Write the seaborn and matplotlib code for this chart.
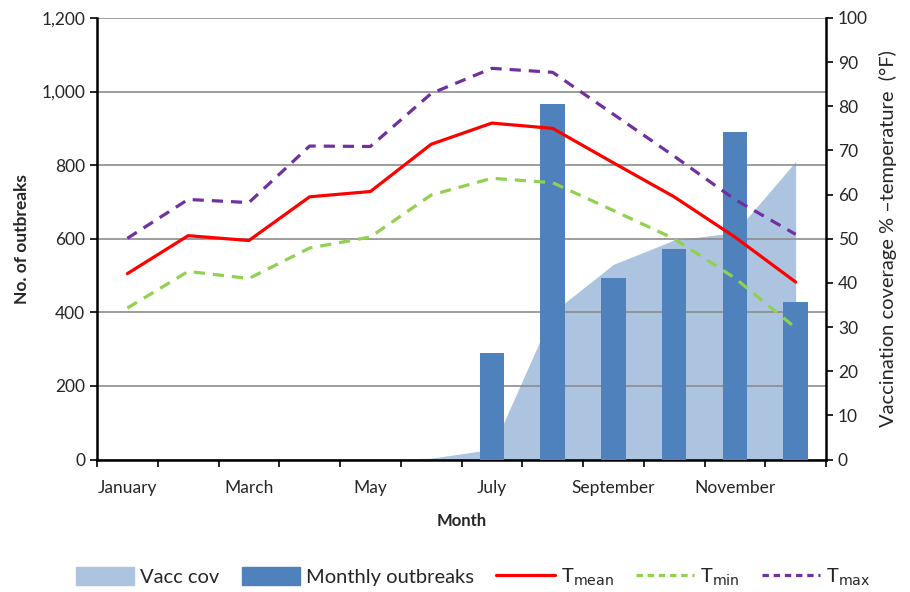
import numpy as np
import pandas as pd
import seaborn as sns
import matplotlib.pyplot as plt
from matplotlib.patches import Patch
from matplotlib.lines import Line2D

# data
months = ['January', 'February', 'March', 'April', 'May', 'June',
          'July', 'August', 'September', 'October', 'November', 'December']
outbreaks = [0, 0, 0, 0, 0, 0, 289, 966, 494, 573, 890, 428]
vacc_cov = [0, 0, 0, 0, 0, 0.3, 2.3, 33.3, 44.2, 49.7, 51.4, 67.5]
t_mean = [42.1, 50.7, 49.6, 59.5, 60.7, 71.4, 76.2, 75.0, 67.2, 59.5, 50.4, 40.2]
t_min = [34.3, 42.6, 41.0, 47.9, 50.4, 59.9, 63.7, 62.7, 56.4, 50.0, 41.1, 29.8]
t_max = [50.1, 58.9, 58.2, 71.0, 70.9, 82.9, 88.6, 87.7, 78.2, 68.7, 58.9, 51.0]

df = pd.DataFrame({
    'month': months,
    'outbreaks': outbreaks,
    'vacc': vacc_cov,
    'tmean': t_mean,
    'tmin': t_min,
    'tmax': t_max,
})
df['pos'] = np.arange(len(months))

sns.set_style('white')
plt.rcParams['font.family'] = ['Lato', 'DejaVu Sans']

c_area = '#adc4e0'
c_bar = '#4f81bd'
c_mean = '#ff0000'
c_min = '#92d050'
c_max = '#7030a0'

fig = plt.figure(figsize=(9.1, 5.92), dpi=100)
ax = fig.add_axes([0.1066, 0.2238, 0.8011, 0.7458])
ax_area = ax.twinx()
ax2 = ax.twinx()
ax_area.set_zorder(0)
ax.set_zorder(1)
ax2.set_zorder(2)
for a in (ax, ax_area, ax2):
    a.patch.set_visible(False)

# vaccination coverage area (right scale, behind)
ax_area.fill_between(df['pos'], df['vacc'], color=c_area, lw=0)
ax_area.set_ylim(0, 100)
ax_area.axis('off')

# monthly outbreaks bars (left scale)
sns.barplot(data=df, x='pos', y='outbreaks', color=c_bar, width=0.4,
            saturation=1, ax=ax, zorder=3, native_scale=True,
            edgecolor='none', linewidth=0)
ax.set_ylim(0, 1200)
ax.set_yticks(np.arange(0, 1201, 200))
ax.set_yticklabels([f'{v:,}' for v in range(0, 1201, 200)])
ax.yaxis.grid(True, color='#8c8c8c', lw=1.2)
ax.set_axisbelow(True)

# temperature lines (right scale, on top)
sns.lineplot(data=df, x='pos', y='tmean', color=c_mean, lw=2.3, ax=ax2)
sns.lineplot(data=df, x='pos', y='tmin', color=c_min, lw=2.3, ls=(0, (3.5, 2.5)), ax=ax2)
sns.lineplot(data=df, x='pos', y='tmax', color=c_max, lw=2.3, ls=(0, (3.5, 2.5)), ax=ax2)
ax2.set_ylim(0, 100)
ax2.set_yticks(np.arange(0, 101, 10))

for a in (ax, ax_area, ax2):
    a.set_xlim(-0.5, 11.5)

# tick marks between months, labels on every other month
ax.set_xticks(np.arange(-0.5, 12, 1))
ax.set_xticklabels([])
ax.set_xticks(np.arange(0, 12, 2), minor=True)
ax.set_xticklabels(months[::2], minor=True)
ax.tick_params(axis='x', which='major', bottom=True, length=5, width=1.2,
               color='black', direction='out')
ax.tick_params(axis='x', which='minor', bottom=True, length=0, labelsize=12.5, pad=15)
ax.tick_params(axis='y', length=5, width=1.2, color='black', direction='out', labelsize=12.5, left=True)
ax2.tick_params(axis='y', length=5, width=1.2, color='black', direction='out', labelsize=12.5, right=True)
ax2.tick_params(axis='x', which='both', bottom=False, labelbottom=False)

ax.spines['top'].set_visible(False)
ax.spines['right'].set_visible(False)
for s in ('top', 'left', 'bottom'):
    ax2.spines[s].set_visible(False)
ax.spines['left'].set_color('black')
ax.spines['left'].set_linewidth(1.8)
ax.spines['bottom'].set_color('black')
ax.spines['bottom'].set_linewidth(1.8)
ax2.spines['right'].set_color('black')
ax2.spines['right'].set_linewidth(1.8)

ax.set_xlabel('Month', fontsize=12, fontweight='bold', labelpad=12)
ax.set_ylabel('No. of outbreaks', fontsize=12.5, fontweight='bold', labelpad=8)
ax2.set_ylabel('Vaccination coverage % \u2013temperature  (\u00b0F)', fontsize=14.5, labelpad=8)

handles = [
    Patch(color=c_area),
    Patch(color=c_bar),
    Line2D([], [], color=c_mean, lw=2.3),
    Line2D([], [], color=c_min, lw=2.3, ls=(0, (2, 1.5))),
    Line2D([], [], color=c_max, lw=2.3, ls=(0, (2, 1.5))),
]
labels = ['Vacc cov', 'Monthly outbreaks', 'T$_{\\mathrm{mean}}$',
          'T$_{\\mathrm{min}}$', 'T$_{\\mathrm{max}}$']
fig.legend(handles, labels, loc='center', bbox_to_anchor=(0.52, 0.025),
           ncol=5, frameon=False, fontsize=14.5, handlelength=2.9,
           handleheight=1.0, handletextpad=0.3, columnspacing=1.1)

fig.savefig('out.png', dpi=100, facecolor='white')
